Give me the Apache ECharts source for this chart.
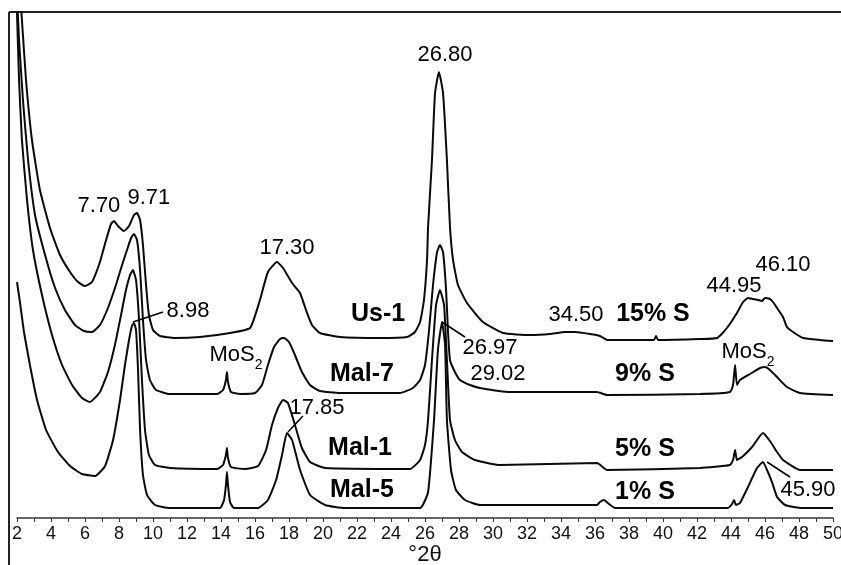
<!DOCTYPE html>
<html><head><meta charset="utf-8">
<script src="https://cdn.jsdelivr.net/npm/echarts@6/dist/echarts.min.js"></script>
<style>html,body{margin:0;padding:0;background:#fff;overflow:hidden}#c{width:841px;height:565px}</style>
</head><body><div id="c"></div>
<script>
// ---- data (°2θ, relative intensity with vertical offsets as in the figure) ----
const us1X = [2.12,2.29,2.53,2.88,3.35,3.94,4.53,5.12,5.59,6.00,6.41,6.88,7.24,7.53,7.71,7.94,8.29,8.59,8.88,9.06,9.24,9.41,9.59,9.76,10.00,10.41,11.29,12.76,14.53,15.71,16.29,16.76,17.29,17.65,18.18,18.65,19.00,19.35,19.82,21.00,23.35,24.94,25.41,25.71,25.94,26.12,26.18,26.41,26.59,26.82,27.06,27.29,27.47,27.65,27.94,28.47,29.41,30.59,32.18,33.35,34.24,34.82,35.71,36.29,36.76,39.47,39.59,39.71,42.18,43.18,43.76,44.35,44.71,45.00,45.29,45.59,45.82,46.00,46.29,46.47,46.71,47.06,47.29,47.65,48.24,49.24,50.00];
const us1Y = [538,498,438,378,328,290,263,246,236,232,236,256,278,294,297,292,287,292,303,305,298,273,233,203,188,182,180,181,185,190,218,246,256,250,235,225,208,193,185,181,180,181,186,196,218,258,291,358,425,446,425,358,291,258,233,215,196,185,183,184,186,186,184,182,178,178,182,178,179,180,190,205,216,220,219,218,217,220,219,216,210,201,191,186,180,178,177];

const mal7X = [2.00,2.12,2.35,2.65,3.06,3.65,4.24,4.82,5.41,5.94,6.41,6.88,7.35,7.82,8.18,8.47,8.71,8.88,9.06,9.24,9.41,9.59,9.82,10.18,11.00,13.76,14.12,14.29,14.35,14.41,14.59,15.12,16.00,16.41,16.76,17.12,17.47,17.71,18.00,18.35,18.76,19.24,19.82,21.00,24.53,25.29,25.71,26.00,26.24,26.47,26.71,26.88,27.06,27.24,27.35,27.47,27.76,28.06,28.65,29.24,31.00,36.12,36.71,42.18,43.94,44.12,44.24,44.35,44.53,45.12,45.71,46.00,46.29,46.76,47.29,48.06,50.00];
const mal7Y = [523,478,418,358,303,263,230,208,193,187,186,193,210,233,253,268,280,284,278,248,198,158,138,128,124,124,128,138,146,136,126,124,125,133,153,171,179,180,176,163,146,133,127,125,125,130,138,153,188,233,266,273,266,228,188,158,146,138,133,130,126,126,123,124,126,133,153,133,138,144,150,151,148,140,131,125,123];

const mal1X = [2.00,2.12,2.29,2.59,2.94,3.47,4.06,4.65,5.24,5.82,6.29,6.88,7.35,7.76,8.12,8.41,8.65,8.82,9.00,9.18,9.35,9.53,9.76,10.12,11.00,13.76,14.12,14.29,14.35,14.41,14.59,15.41,16.18,16.65,17.00,17.35,17.65,17.94,18.35,18.76,19.24,20.12,25.12,25.71,26.00,26.18,26.41,26.65,26.88,27.12,27.29,27.47,27.76,28.18,28.94,30.41,36.12,36.71,42.18,43.94,44.12,44.24,44.35,44.65,45.24,45.88,46.29,46.71,47.06,48.06,50.00];
const mal1Y = [505,438,378,318,268,223,183,153,133,120,116,126,146,173,203,228,243,248,238,198,138,88,63,53,50,49,53,63,70,60,51,49,52,68,93,110,118,115,93,70,56,50,49,58,73,98,158,213,228,213,158,98,78,66,58,53,55,48,50,53,58,68,58,61,71,85,77,66,58,48,48];

const mal5X = [2.00,2.18,2.41,2.76,3.18,3.71,4.41,5.12,5.82,6.59,7.18,7.65,8.06,8.35,8.59,8.76,8.88,9.00,9.12,9.24,9.41,9.65,10.12,11.00,13.94,14.18,14.29,14.35,14.41,14.53,14.76,16.18,16.76,17.24,17.59,17.88,18.18,18.65,19.24,20.12,21.29,25.71,26.18,26.53,26.76,27.00,27.18,27.29,27.53,27.82,28.35,29.24,36.12,36.29,36.53,36.82,37.18,42.18,43.82,44.06,44.18,44.29,44.53,45.00,45.53,45.88,46.12,46.41,46.71,47.18,48.06,50.00];
const mal5Y = [236,215,186,153,118,88,66,52,44,42,52,78,118,153,178,192,195,188,148,88,43,23,13,10,10,18,33,46,33,16,10,10,18,38,63,85,78,48,23,13,10,10,26,98,168,196,173,98,48,28,18,13,13,16,18,14,10,10,10,14,18,13,15,31,50,56,48,36,21,13,10,10];

const seriesNames = ['Us-1','Mal-7','Mal-1','Mal-5'];
const xTickLabels = ['2','4','6','8','10','12','14','16','18','20','22','24','26','28','30','32','34','36','38','40','42','44','46','48','50'];

// peak annotations (text, °2θ, intensity)
const peakTexts = ['7.70','9.71','8.98','17.30','26.80','26.97','29.02','34.50','44.95','46.10','45.90','17.85'];
const peakX =     [6.82, 9.76, 12.06, 17.88, 27.18, 29.82, 30.29, 34.88, 44.18, 47.06, 48.53, 19.65];
const peakY =     [312,  320,  207,   270,   463,   170,   144,   203,   232,   253,   28,    110];
const mosX = [14.88, 45.0];
const mosY = [163, 166];
const sampleTexts = ['Us-1','Mal-7','Mal-1','Mal-5','15% S','9% S','5% S','1% S'];
const sampleX = [23.24, 22.29, 22.18, 22.29, 39.41, 38.94, 38.94, 38.94];
const sampleY = [204, 144, 70, 28, 204, 144, 69, 26];
// leader lines [from, to]
const leaders = [
  [[8.82,196],[10.59,206]],
  [[27.00,196],[28.35,181]],
  [[17.94,86],[18.82,102]],
  [[46.12,56],[47.47,41]]
];

const zip = (a,b) => a.map((v,i)=>[v,b[i]]);
const curves = [[us1X,us1Y],[mal7X,mal7Y],[mal1X,mal1Y],[mal5X,mal5Y]];

const lineSeries = curves.map((c,i)=>({
  name: seriesNames[i], type:'line', data: zip(c[0],c[1]),
  showSymbol:false, symbol:'none', smooth:0.15, clip:true,
  lineStyle:{color:'#0a0a0a',width:2}, z:3
}));

const numFont = {fontFamily:'Liberation Sans, Arial, sans-serif', fontSize:22, color:'#000', textBorderWidth:0};
const txtItem = {opacity:1, color:'transparent'};

const chart = echarts.init(document.getElementById('c'));
chart.setOption({
  animation:false,
  backgroundColor:'#fff',
  grid:{left:17,right:8,top:12,bottom:47,containLabel:false,outerBoundsMode:'none'},
  xAxis:{type:'value',min:2,max:50,interval:2,
    axisLine:{show:true,lineStyle:{color:'#333',width:1.5}},
    axisTick:{show:true,length:4,inside:false,lineStyle:{color:'#333',width:1}},
    minorTick:{show:true,splitNumber:2,length:4,lineStyle:{color:'#333',width:1}},
    splitLine:{show:false},
    axisLabel:{margin:7,color:'#111',fontSize:18,fontFamily:'Liberation Sans Narrow, Arial Narrow, Liberation Sans, sans-serif',
      formatter:(v)=>{const s=String(Math.round(v)); return xTickLabels.indexOf(s)>=0?s:'';}},
    name:'°2θ',nameLocation:'middle',nameGap:26,nameMoveOverlap:false,
    nameTextStyle:{fontSize:22,color:'#111',fontFamily:'Liberation Sans, Arial, sans-serif'}
  },
  yAxis:{type:'value',min:0,max:506,show:false},
  series:[
    ...lineSeries,
    {type:'scatter',symbolSize:0,silent:true,z:5,itemStyle:txtItem,
     data: peakTexts.map((t,i)=>({value:[peakX[i],peakY[i]],name:t})),
     label:{show:true,position:'inside',formatter:p=>p.name,...numFont}},
    {type:'scatter',symbolSize:0,silent:true,z:5,itemStyle:txtItem,
     data: mosX.map((x,i)=>({value:[x,mosY[i]]})),
     label:{show:true,position:'inside',formatter:'{a|MoS}{b|2}',textBorderWidth:0,
       rich:{a:{...numFont,verticalAlign:'bottom'},b:{fontFamily:'Liberation Sans, Arial, sans-serif',fontSize:14,color:'#000',verticalAlign:'bottom',padding:[0,0,-6,0]}}}},
    {type:'scatter',symbolSize:0,silent:true,z:5,itemStyle:txtItem,
     data: sampleTexts.map((t,i)=>({value:[sampleX[i],sampleY[i]],name:t})),
     label:{show:true,position:'inside',formatter:p=>p.name,fontFamily:'Liberation Sans, Arial, sans-serif',fontSize:25,fontWeight:'bold',color:'#000',textBorderWidth:0}},
    {type:'lines',coordinateSystem:'cartesian2d',silent:true,z:4,
     data: leaders.map(l=>({coords:l})),
     lineStyle:{color:'#000',width:1.6,opacity:1}}
  ],
  graphic:[
    {type:'line',shape:{x1:9,y1:12,x2:841,y2:12},style:{stroke:'#222',lineWidth:2},silent:true},
    {type:'line',shape:{x1:9,y1:12,x2:9,y2:565},style:{stroke:'#222',lineWidth:2},silent:true}
  ]
});
</script></body></html>
